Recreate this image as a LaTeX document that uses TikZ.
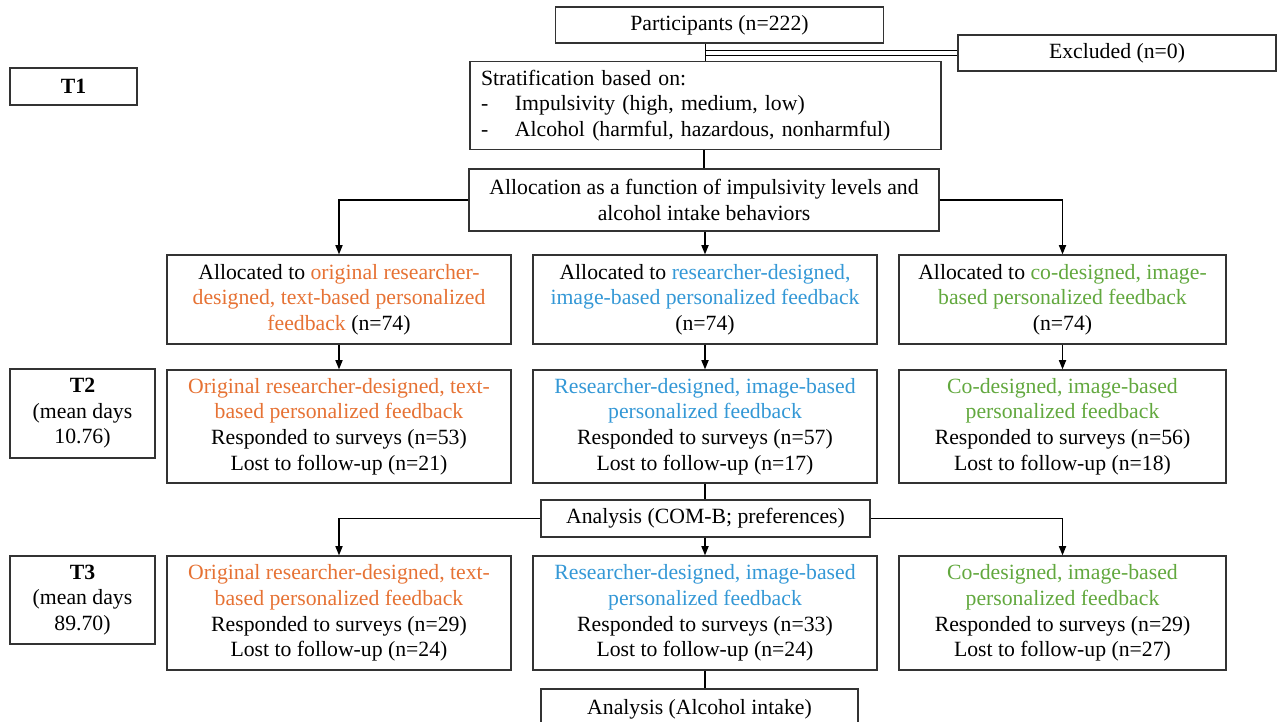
\documentclass[tikz,border=0pt]{standalone}
\usepackage{fontspec}
\setmainfont{Liberation Serif}
\usetikzlibrary{arrows.meta}
\definecolor{origtxt}{RGB}{230,114,52}
\definecolor{restxt}{RGB}{52,152,214}
\definecolor{codtxt}{RGB}{98,168,62}
\tikzset{
  box/.style 2 args={draw=black!80, align=center, inner sep=0pt,
    minimum width=#1*0.75pt, minimum height=#2*0.75pt},
  stratbox/.style={draw=black!80, align=left, inner xsep=8.25pt, inner ysep=0pt,
    text width=449*0.75pt, minimum height=88*0.75pt},
  arr/.style={-{Triangle[length=7pt,width=5.4pt]}},
}
\begin{document}
\begin{tikzpicture}[x=0.75pt, y=-0.75pt, line width=0.95pt, font=\fontsize{16.3}{19.2}\selectfont]
  \useasboundingbox (0,0) rectangle (1277,721);
  % top part
  \node[box={328}{36}] (part) at (719.5,25) {Participants (n=222)};
  \node[box={318}{36}] (excl) at (1117,53) {Excluded (n=0)};
  \node[box={127}{37}] (t1) at (73.5,86.5) {\textbf{T1}};
  \node[stratbox] (strat) at (705.5,105.5) {Stratification based on:\\
    \makebox[25.5pt][l]{-}Impulsivity (high, medium, low)\\
    \makebox[25.5pt][l]{-}Alcohol (harmful, hazardous, nonharmful)};
  \node[box={470}{62}] (alloc) at (704,200) {Allocation as a function of impulsivity levels and\\alcohol intake behaviors};
  % allocated groups
  \node[box={344}{89}] (a1) at (339,299.5) {Allocated to \textcolor{origtxt}{original researcher-}\\
    \textcolor{origtxt}{designed, text-based personalized}\\\textcolor{origtxt}{feedback} (n=74)};
  \node[box={344}{89}] (a2) at (705,299.5) {Allocated to \textcolor{restxt}{researcher-designed,}\\
    \textcolor{restxt}{image-based personalized feedback}\\(n=74)};
  \node[box={327}{89}] (a3) at (1062.5,299.5) {Allocated to \textcolor{codtxt}{co-designed, image-}\\
    \textcolor{codtxt}{based personalized feedback}\\(n=74)};
  % T2
  \node[box={145}{89}] (t2) at (82.5,413.5) {\textbf{T2}\\(mean days\\10.76)};
  \node[box={344}{113}] (b1) at (339,426.5) {\textcolor{origtxt}{Original researcher-designed, text-}\\
    \textcolor{origtxt}{based personalized feedback}\\Responded to surveys (n=53)\\Lost to follow-up (n=21)};
  \node[box={344}{113}] (b2) at (705,426.5) {\textcolor{restxt}{Researcher-designed, image-based}\\
    \textcolor{restxt}{personalized feedback}\\Responded to surveys (n=57)\\Lost to follow-up (n=17)};
  \node[box={327}{113}] (b3) at (1062.5,426.5) {\textcolor{codtxt}{Co-designed, image-based}\\
    \textcolor{codtxt}{personalized feedback}\\Responded to surveys (n=56)\\Lost to follow-up (n=18)};
  \node[box={329}{37}] (an1) at (705.5,518.5) {Analysis (COM-B; preferences)};
  % T3
  \node[box={145}{88}] (t3) at (82.5,600) {\textbf{T3}\\(mean days\\89.70)};
  \node[box={344}{114}] (c1) at (339,613) {\textcolor{origtxt}{Original researcher-designed, text-}\\
    \textcolor{origtxt}{based personalized feedback}\\Responded to surveys (n=29)\\Lost to follow-up (n=24)};
  \node[box={344}{114}] (c2) at (705,613) {\textcolor{restxt}{Researcher-designed, image-based}\\
    \textcolor{restxt}{personalized feedback}\\Responded to surveys (n=33)\\Lost to follow-up (n=24)};
  \node[box={327}{114}] (c3) at (1062.5,613) {\textcolor{codtxt}{Co-designed, image-based}\\
    \textcolor{codtxt}{personalized feedback}\\Responded to surveys (n=29)\\Lost to follow-up (n=27)};
  \node[box={317}{40}] (an2) at (699.5,709) {Analysis (Alcohol intake)};
  % connectors
  \coordinate (split) at (strat.north |- excl.west);
  \draw (strat.north) -- (strat.north |- part.south);
  \draw[double, double distance=2.6pt, line width=0.9pt] (split) -- (excl.west);
  \draw (alloc.north) -- (alloc.north |- strat.south);
  \draw[arr] (alloc.west) -| (a1.north);
  \draw[arr] (a2.north |- alloc.south) -- (a2.north);
  \draw[arr] (alloc.east) -| (a3.north);
  \draw[arr] (a1) -- (b1);
  \draw[arr] (a2) -- (b2);
  \draw[arr] (a3) -- (b3);
  \draw (b2.south) -- (b2.south |- an1.north);
  \draw[arr] (an1.west) -| (c1.north);
  \draw[arr] (c2.north |- an1.south) -- (c2.north);
  \draw[arr] (an1.east) -| (c3.north);
  \draw (c2.south) -- (c2.south |- an2.north);
\end{tikzpicture}
\end{document}
